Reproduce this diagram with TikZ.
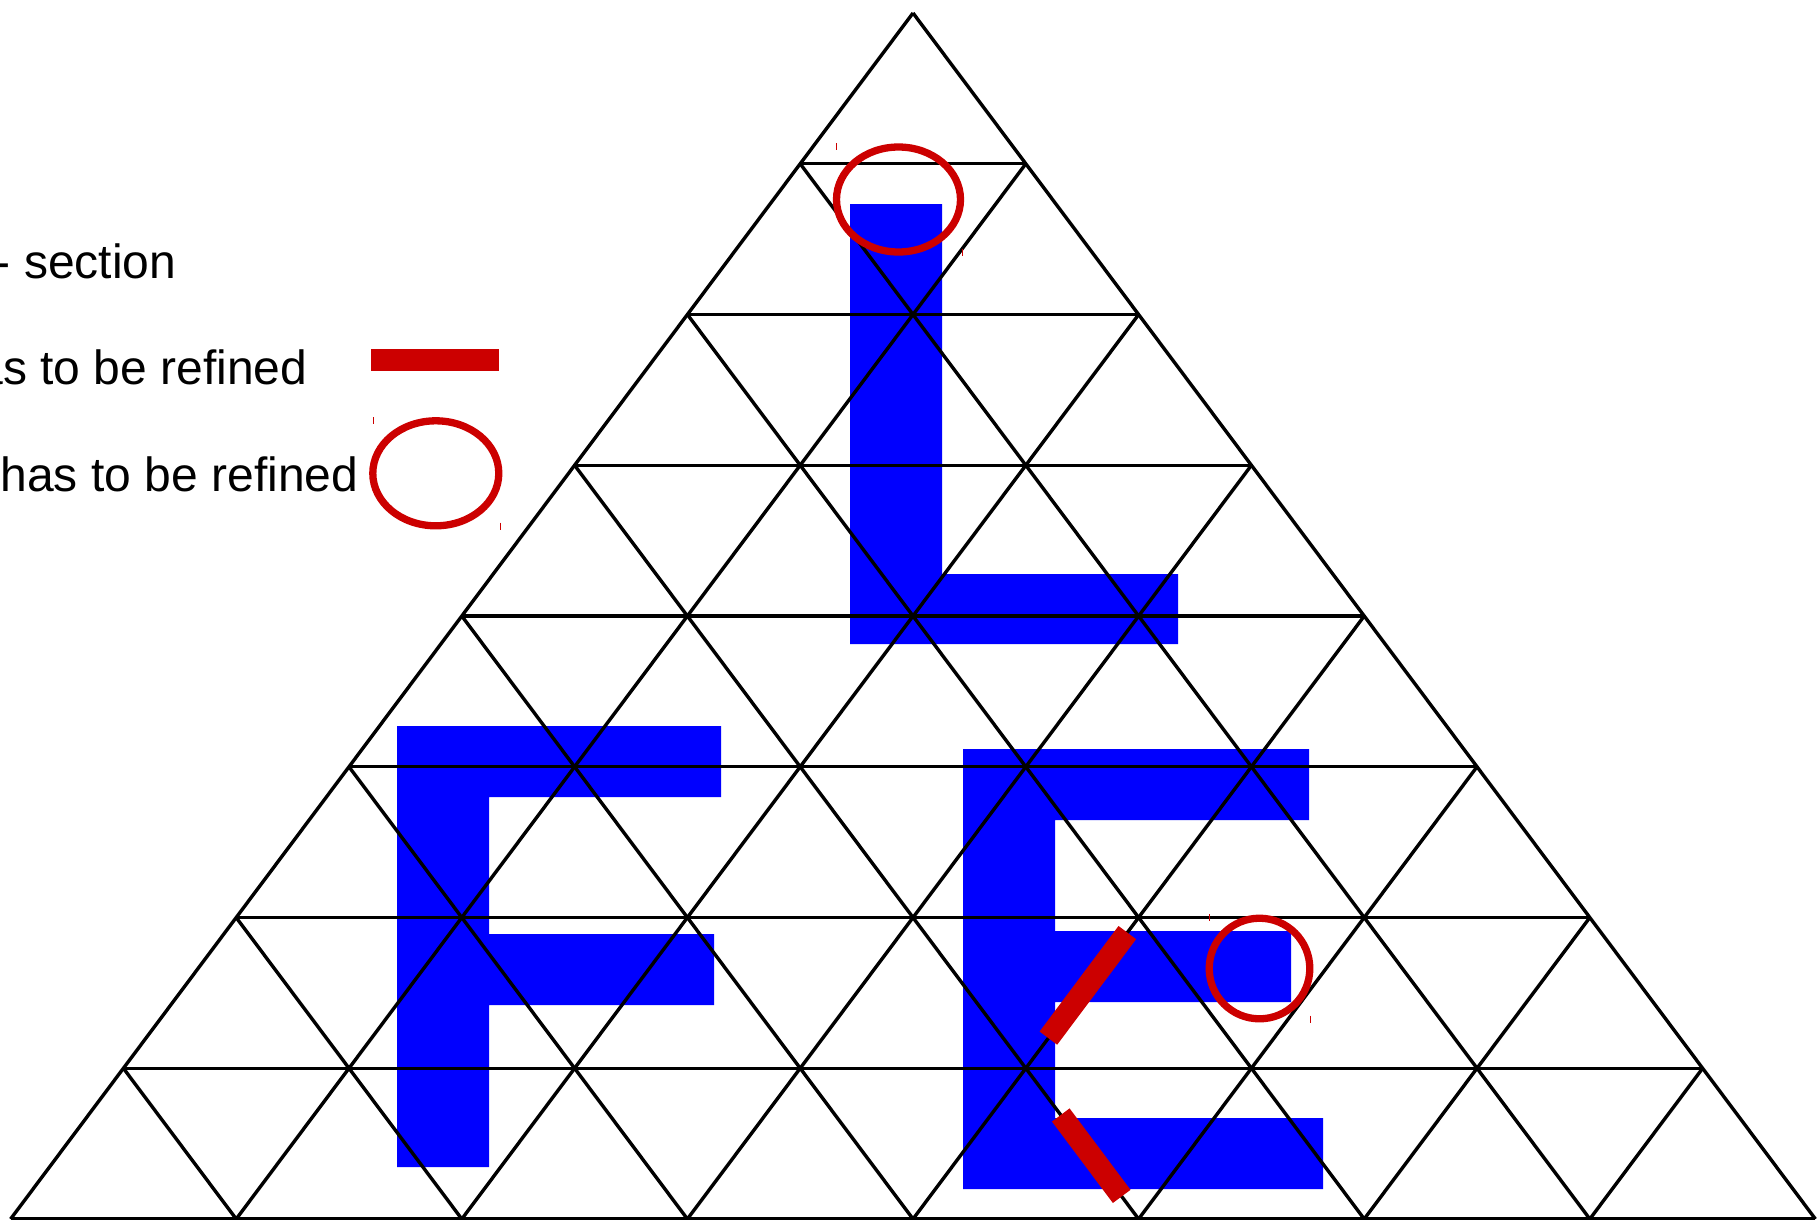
\documentclass[tikz,border=0pt]{standalone}
\usepackage{fontspec}
\setmainfont{Liberation Sans}
\usetikzlibrary{calc}
\definecolor{markred}{RGB}{204,0,0}

\begin{document}
\begin{tikzpicture}[x=1pt, y=-1pt,
  mesh/.style={draw=black, line width=3.4pt},
  letter/.style={fill=blue},
  edgemark/.style={draw=markred, line width=22pt},
  elemmark/.style={draw=markred, line width=7.3pt},
  corner/.style={draw=markred, line width=1pt},
  legend/.style={anchor=base east, inner sep=0pt, font=\fontsize{48}{58}\selectfont}
]
  \useasboundingbox (0,0) rectangle (1817,1219);
  \clip (0,0) rectangle (1817,1219);

  \foreach \r in {0,...,8}
    \foreach \j in {0,...,\r}
      \coordinate (v-\r-\j) at ({913-112.8*\r+225.6*\j}, {13+150.75*\r});

  \fill[letter] (850,204) -- (942,204) -- (942,574) -- (1178,574) -- (1178,644) -- (850,644) -- cycle;
  \fill[letter] (397,726) -- (721,726) -- (721,797) -- (489,797) -- (489,934) -- (714,934)
    -- (714,1005) -- (489,1005) -- (489,1167) -- (397,1167) -- cycle;
  \fill[letter] (963,749) -- (1309,749) -- (1309,820) -- (1055,820) -- (1055,931) -- (1291,931)
    -- (1291,1002) -- (1055,1002) -- (1055,1118) -- (1323,1118) -- (1323,1189) -- (963,1189) -- cycle;

  \foreach \k in {0,...,8} {
    \pgfmathtruncatemacro{\m}{8-\k}
    \draw[mesh] (v-\k-0) -- (v-\k-\k);
    \draw[mesh] (v-8-\k) -- (v-\k-\k);
    \draw[mesh] (v-8-\m) -- (v-\k-0);
  }

  \draw[edgemark] ($(v-6-4)!0.1!(v-7-4)$) -- ($(v-6-4)!0.8!(v-7-4)$);
  \draw[edgemark] ($(v-7-4)!0.31!(v-8-5)$) -- ($(v-7-4)!0.85!(v-8-5)$);

  \draw[elemmark] (898.5,199.5) ellipse [x radius=62pt, y radius=52.5pt];
  \draw[corner] (836.7,143.3) -- ++(0,7);
  \draw[corner] (962.7,248.7) -- ++(0,7);
  \draw[elemmark] (1259.5,968.5) circle [radius=50.3pt];
  \draw[corner] (1209.3,914.3) -- ++(0,7);
  \draw[corner] (1310.7,1015.7) -- ++(0,7);

  \node[legend] (section) at (176.5,278) {- section};
  \node[legend] (edgetext) at (307.6,384.3) {as to be refined};
  \node[legend] (elemtext) at (358.4,491.7) {has to be refined};
  \fill[markred] (371,349) rectangle (499,371);
  \draw[elemmark] (435.8,473.3) ellipse [x radius=63pt, y radius=52.5pt];
  \draw[corner] (373.3,417.3) -- ++(0,7);
  \draw[corner] (500,522.7) -- ++(0,7);
\end{tikzpicture}
\end{document}
